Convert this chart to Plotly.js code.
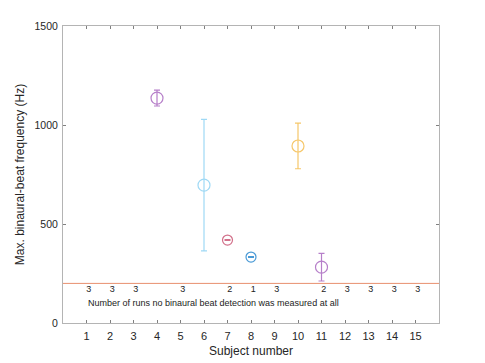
<!DOCTYPE html>
<html>
<head>
<meta charset="utf-8">
<script src="https://cdn.plot.ly/plotly-3.0.1.min.js"></script>
<style>
  html, body { margin: 0; padding: 0; background: #fff; }
  #plot { width: 485px; height: 363px; }
</style>
</head>
<body>
<div id="plot"></div>
<script>
// subjects with a measured max binaural-beat frequency
const subjects = [4, 6, 7, 8, 10, 11];
const maxFreq = [1136, 696, 419, 333, 894, 282];
const errFreq = [40, 332, 2, 2, 115, 70];
const colors = ['#b67fc9', '#9fd9f5', '#d2708a', '#4a9ad6', '#f6c76a', '#b67fc9'];

// number of runs without any detection
const countSubjects = [1, 2, 3, 5, 7, 8, 9, 11, 12, 13, 14, 15];
const countValues = [3, 3, 3, 3, 2, 1, 3, 2, 3, 3, 3, 3];
const countRowY = 168;

const threshold = 200;
const tickVals = [1, 2, 3, 4, 5, 6, 7, 8, 9, 10, 11, 12, 13, 14, 15];

const traces = subjects.map((s, i) => ({
    x: [s],
    y: [maxFreq[i]],
    type: 'scatter',
    mode: 'markers',
    marker: {
        symbol: 'circle-open',
        size: (errFreq[i] <= 10) ? 10 : 12,
        color: colors[i],
        line: { color: colors[i], width: 1.2 }
    },
    error_y: {
        type: 'data',
        array: [errFreq[i]],
        visible: true,
        color: colors[i],
        thickness: 1.2,
        width: 3
    },
    hoverinfo: 'x+y'
}));

traces.push({
    x: countSubjects.map(s => s + 0.1),
    y: countSubjects.map(() => countRowY),
    text: countValues.map(String),
    type: 'scatter',
    mode: 'text',
    textfont: { family: 'Liberation Sans, Arial, sans-serif', size: 9, color: '#222' },
    hoverinfo: 'skip'
});

const axisStyle = {
    showline: true,
    linecolor: '#b4b4b4',
    linewidth: 1,
    mirror: 'ticks',
    ticks: 'inside',
    ticklen: 3,
    tickcolor: '#808080',
    showgrid: false,
    zeroline: false,
    tickfont: { family: 'Liberation Sans, Arial, sans-serif', size: 11, color: '#262626' }
};

const layout = {
    width: 485,
    height: 363,
    margin: { l: 63, r: 46, t: 26, b: 40 },
    paper_bgcolor: '#fff',
    plot_bgcolor: '#fff',
    showlegend: false,
    xaxis: Object.assign({}, axisStyle, {
        range: [0, 16],
        tickvals: tickVals,
        ticktext: tickVals.map(String),
        ticklabelstandoff: 3,
        title: { text: 'Subject number', standoff: 5,
                 font: { family: 'Liberation Sans, Arial, sans-serif', size: 12, color: '#262626' } }
    }),
    yaxis: Object.assign({}, axisStyle, {
        range: [0, 1500],
        tickvals: [0, 500, 1000, 1500],
        tickfont: { family: 'Liberation Sans, Arial, sans-serif', size: 10.5, color: '#262626' },
        ticklabelstandoff: 2,
        title: { text: 'Max. binaural-beat frequency (Hz)', standoff: 7,
                 font: { family: 'Liberation Sans, Arial, sans-serif', size: 12, color: '#262626' } }
    }),
    shapes: [{
        type: 'line', xref: 'paper', yref: 'y',
        x0: 0, x1: 1, y0: threshold, y1: threshold,
        line: { color: '#e8906e', width: 1 }
    }],
    annotations: [{
        xref: 'x', yref: 'y', x: 0.0, y: 101,
        xshift: 23,
        xanchor: 'left', yanchor: 'middle',
        showarrow: false,
        text: 'Number of runs no binaural beat detection was measured at all',
        font: { family: 'Liberation Sans, Arial, sans-serif', size: 9, color: '#222' }
    }]
};

Plotly.newPlot('plot', traces, layout, { displayModeBar: false, staticPlot: true });
</script>
</body>
</html>
